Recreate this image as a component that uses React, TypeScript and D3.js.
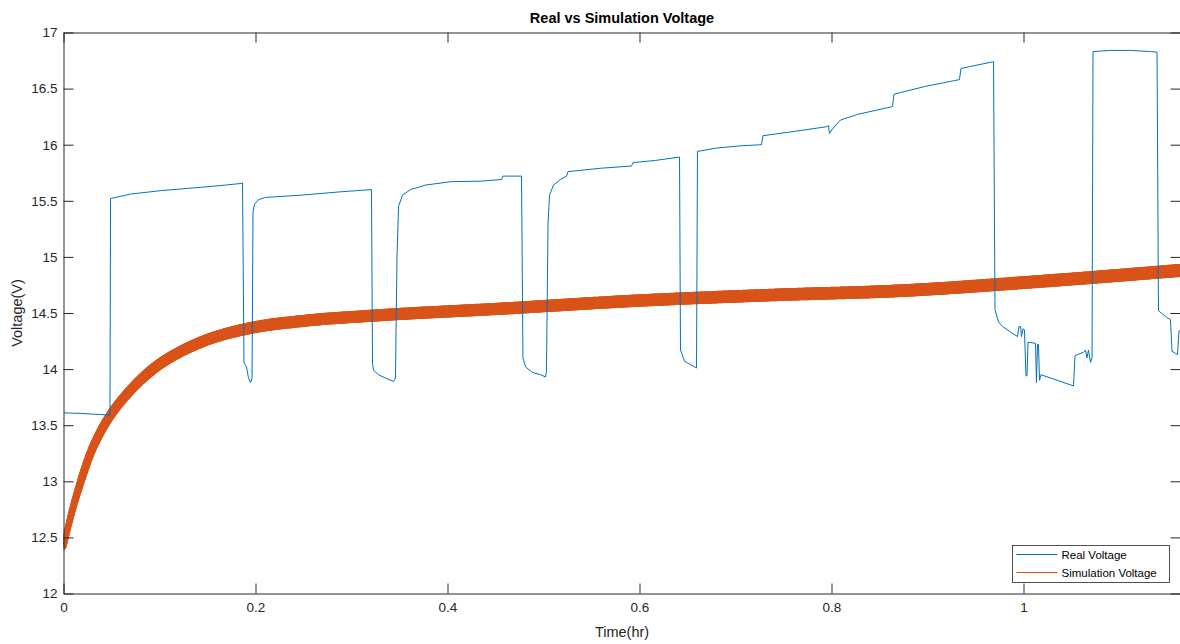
import { useEffect, useRef } from 'react';
import * as d3 from 'd3';

// Real Voltage: time (hr) and voltage (V)
const realTime = [
  0, 0.0177, 0.0385, 0.0484, 0.049, 0.0698, 0.101, 0.1427, 0.1688, 0.1854,
  0.1865, 0.188, 0.1906, 0.1927, 0.1948, 0.1964, 0.1974, 0.199, 0.2031, 0.2104,
  0.2469, 0.2885, 0.3208, 0.3219, 0.3229, 0.3281, 0.3354, 0.3438, 0.3458, 0.3474,
  0.349, 0.3531, 0.3615, 0.3771, 0.4031, 0.4344, 0.4563, 0.4578, 0.4771, 0.4786,
  0.4813, 0.4885, 0.4969, 0.5021, 0.5031, 0.5047, 0.5063, 0.5104, 0.5177, 0.524,
  0.5255, 0.5594, 0.5917, 0.5932, 0.6167, 0.6417, 0.6427, 0.6469, 0.6531, 0.6594,
  0.6604, 0.6802, 0.7052, 0.7271, 0.7286, 0.7625, 0.7948, 0.7969, 0.7979, 0.801,
  0.8094, 0.8271, 0.8635, 0.8651, 0.8979, 0.9333, 0.9349, 0.9688, 0.9703, 0.974,
  0.9781, 0.9865, 0.9938, 0.9953, 0.9969, 0.9979, 0.9995, 1.001, 1.0026, 1.0036,
  1.0047, 1.0125, 1.0135, 1.0146, 1.0156, 1.0167, 1.0182, 1.0521, 1.0536, 1.0625,
  1.0646, 1.0661, 1.0677, 1.0698, 1.0714, 1.0724, 1.0906, 1.1115, 1.1323, 1.1391,
  1.1406, 1.1479, 1.1531, 1.1547, 1.1583, 1.1604, 1.162, 1.1635,
];
const realVoltage = [
  13.61, 13.605, 13.595, 13.59, 15.52, 15.56, 15.59, 15.62, 15.64, 15.655,
  15.66, 14.06, 14.02, 13.92, 13.88, 13.92, 15.4, 15.47, 15.51, 15.53,
  15.55, 15.58, 15.6, 14.05, 13.99, 13.95, 13.92, 13.89, 13.92, 15.0,
  15.45, 15.55, 15.6, 15.64, 15.67, 15.675, 15.69, 15.72, 15.72, 14.1,
  14.02, 13.97, 13.95, 13.93, 13.98, 15.3, 15.55, 15.64, 15.69, 15.72,
  15.76, 15.79, 15.81, 15.84, 15.86, 15.89, 14.17, 14.07, 14.04, 14.01,
  15.94, 15.97, 15.99, 16.0, 16.08, 16.12, 16.16, 16.17, 16.1, 16.14,
  16.22, 16.27, 16.34, 16.45, 16.52, 16.58, 16.68, 16.74, 14.53, 14.42,
  14.38, 14.33, 14.29, 14.38, 14.38, 14.29, 14.36, 14.35, 13.94, 13.94,
  14.24, 14.23, 13.88, 14.22, 14.22, 13.9, 13.95, 13.85, 14.12, 14.15,
  14.17, 14.1, 14.17, 14.06, 14.1, 16.83, 16.84, 16.84, 16.83, 16.825,
  14.52, 14.47, 14.44, 14.16, 14.14, 14.13, 14.34, 14.34,
];

// Simulation Voltage: centre of the orange band
const simTime = [
  0, 0.0073, 0.0177, 0.0281, 0.0385, 0.049, 0.0664, 0.0836, 0.101, 0.1184,
  0.1461, 0.1914, 0.2503, 0.3198, 0.4586, 0.5976, 0.7365, 0.8753, 1.0143, 1.1635,
];
const simVoltage = [
  12.415, 12.68, 12.99, 13.25, 13.44, 13.59, 13.78, 13.93, 14.05, 14.14,
  14.25, 14.36, 14.43, 14.475, 14.54, 14.61, 14.66, 14.7, 14.78, 14.88,
];

const xTicks = [0, 0.2, 0.4, 0.6, 0.8, 1];
const yTicks = [12, 12.5, 13, 13.5, 14, 14.5, 15, 15.5, 16, 16.5, 17];
const seriesNames = ['Real Voltage', 'Simulation Voltage'];

const BLUE = '#0072BD';
const ORANGE = '#D95319';
const INK = '#262626';
const FONT = '"Liberation Sans", Arial, Helvetica, sans-serif';

const VoltageChart = ({ width = 1180, height = 644 }) => {
  const svgRef = useRef<SVGSVGElement>(null);

  useEffect(() => {
    const root = d3.select(svgRef.current);
    root.selectAll('*').remove();

    const left = 63.5;
    const top = 32.5;
    const right = 1180.5;
    const bottom = 593.5;

    const x = d3.scaleLinear().domain([0, (right - left) / 960]).range([left, right]);
    const y = d3.scaleLinear().domain([12, 17]).range([bottom, top]);

    const svg = root.attr('width', width).attr('height', height);

    svg
      .append('defs')
      .append('clipPath')
      .attr('id', 'plot-clip')
      .append('rect')
      .attr('x', left)
      .attr('y', top)
      .attr('width', right - left)
      .attr('height', bottom - top);

    const plot = svg.append('g').attr('clip-path', 'url(#plot-clip)');

    // Simulation band: smooth curve, then drawn in short pieces whose width grows with time
    const bandWidth = d3
      .scaleLinear()
      .domain([0, 0.02, 0.05, 0.1, 0.2, 1.16])
      .range([6, 8, 9.5, 11, 12, 13])
      .clamp(true);

    const simLine = d3
      .line<number>()
      .x((_, i) => x(simTime[i]))
      .y(d => y(d))
      .curve(d3.curveMonotoneX);

    const guide = plot
      .append('path')
      .datum(simVoltage)
      .attr('fill', 'none')
      .attr('stroke', 'none')
      .attr('d', simLine);

    const node = guide.node() as SVGPathElement;
    const total = node.getTotalLength();
    const steps = Math.ceil(total / 2);
    const pts = d3.range(steps + 1).map(k => node.getPointAtLength((k / steps) * total));
    guide.remove();

    plot
      .append('g')
      .selectAll('line')
      .data(d3.pairs(pts))
      .enter()
      .append('line')
      .attr('x1', d => d[0].x)
      .attr('y1', d => d[0].y)
      .attr('x2', d => d[1].x)
      .attr('y2', d => d[1].y)
      .attr('stroke', ORANGE)
      .attr('stroke-linecap', 'round')
      .attr('stroke-width', d => bandWidth(x.invert((d[0].x + d[1].x) / 2)));

    // Real voltage line
    const line = d3
      .line<number>()
      .x((_, i) => x(realTime[i]))
      .y(d => y(d));

    plot
      .append('path')
      .datum(realVoltage)
      .attr('fill', 'none')
      .attr('stroke', BLUE)
      .attr('stroke-width', 1)
      .attr('stroke-linejoin', 'round')
      .attr('d', line);

    // Axes box and ticks (MATLAB style, inward ticks on all sides)
    const styleAxis = (g: d3.Selection<SVGGElement, unknown, null, undefined>) => {
      g.select('.domain').attr('stroke', INK);
      g.selectAll('.tick line').attr('stroke', INK);
      g.selectAll('.tick text')
        .attr('fill', INK)
        .style('font-family', FONT)
        .style('font-size', '13.5px');
    };

    svg
      .append('g')
      .attr('transform', `translate(0, ${bottom})`)
      .call(d3.axisBottom(x).tickValues(xTicks).tickSizeInner(-10).tickSizeOuter(0).tickPadding(9).tickFormat(d => String(d)))
      .call(styleAxis);

    svg
      .append('g')
      .attr('transform', `translate(0, ${top})`)
      .call(d3.axisTop(x).tickValues(xTicks).tickSizeInner(-10).tickSizeOuter(0).tickFormat(() => ''))
      .call(styleAxis);

    svg
      .append('g')
      .attr('transform', `translate(${left}, 0)`)
      .call(d3.axisLeft(y).tickValues(yTicks).tickSizeInner(-10).tickSizeOuter(0).tickPadding(6).tickFormat(d => String(d)))
      .call(styleAxis);

    svg
      .append('g')
      .attr('transform', `translate(${right}, 0)`)
      .call(d3.axisRight(y).tickValues(yTicks).tickSizeInner(-10).tickSizeOuter(0).tickFormat(() => ''))
      .call(styleAxis);

    // Title and axis labels
    svg
      .append('text')
      .attr('x', (left + right) / 2)
      .attr('y', 23)
      .attr('text-anchor', 'middle')
      .attr('fill', '#000')
      .style('font-family', FONT)
      .style('font-size', '14.5px')
      .style('font-weight', 'bold')
      .text('Real vs Simulation Voltage');

    svg
      .append('text')
      .attr('x', (left + right) / 2)
      .attr('y', 637)
      .attr('text-anchor', 'middle')
      .attr('fill', INK)
      .style('font-family', FONT)
      .style('font-size', '14.5px')
      .text('Time(hr)');

    svg
      .append('text')
      .attr('transform', `translate(22, ${(top + bottom) / 2}) rotate(-90)`)
      .attr('text-anchor', 'middle')
      .attr('fill', INK)
      .style('font-family', FONT)
      .style('font-size', '14.5px')
      .text('Voltage(V)');

    // Legend
    const legend = svg.append('g').attr('transform', 'translate(1012.5, 545.5)');
    legend
      .append('rect')
      .attr('width', 157)
      .attr('height', 37)
      .attr('fill', '#fff')
      .attr('stroke', INK)
      .attr('stroke-width', 0.8);

    const entries = legend
      .selectAll('.entry')
      .data(seriesNames)
      .enter()
      .append('g')
      .attr('class', 'entry')
      .attr('transform', (_, i) => `translate(0, ${9 + i * 18})`);

    entries
      .append('line')
      .attr('x1', 4)
      .attr('x2', 45)
      .attr('stroke', (_, i) => (i === 0 ? BLUE : ORANGE))
      .attr('stroke-width', 1);

    entries
      .append('text')
      .attr('x', 49)
      .attr('dy', '0.35em')
      .attr('fill', '#000')
      .style('font-family', FONT)
      .style('font-size', '11.5px')
      .text(d => d);
  }, [width, height]);

  return (
    <svg ref={svgRef} style={{ position: 'absolute', left: 0, top: 0, background: '#fff' }}></svg>
  );
};

export default function App() {
  return <VoltageChart />;
}
